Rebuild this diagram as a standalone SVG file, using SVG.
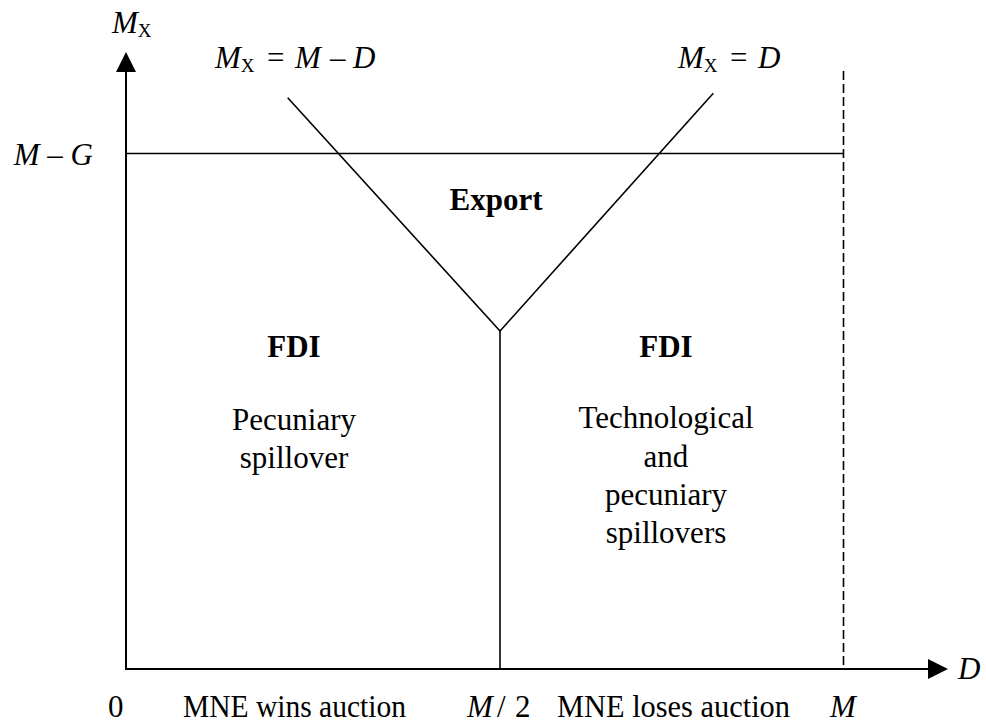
<svg xmlns="http://www.w3.org/2000/svg" width="986" height="725" viewBox="0 0 986 725">
  <style>
    text { font-family: "Liberation Serif", "Times New Roman", serif; font-size: 31px; fill: #000; }
    .it { font-style: italic; }
    .sub { font-size: 19px; font-style: normal; }
    .b { font-weight: bold; }
    .mid { text-anchor: middle; }
    .axis { stroke: #000; stroke-width: 2; fill: none; }
    .ln { stroke: #000; stroke-width: 1.6; fill: none; }
    .dash { stroke: #000; stroke-width: 1.6; fill: none; stroke-dasharray: 9 4; }
  </style>
  <defs>
    <marker id="arrow" markerUnits="userSpaceOnUse" markerWidth="20" markerHeight="20" refX="0" refY="10" orient="auto">
      <path d="M0,0 L20,10 L0,20 z" fill="#000"/>
    </marker>
  </defs>
  <rect width="986" height="725" fill="#fff"/>

  <g id="axes">
    <line class="axis" x1="126" y1="670" x2="126" y2="72" marker-end="url(#arrow)"/>
    <line class="axis" x1="125" y1="669" x2="928" y2="669" marker-end="url(#arrow)"/>
  </g>

  <g id="connectors">
    <line id="mg-line" class="ln" x1="126" y1="153.5" x2="843.5" y2="153.5"/>
    <line id="m-dashed" class="dash" x1="843.5" y1="71" x2="843.5" y2="668"/>
    <line id="mx-m-d" class="ln" x1="287.7" y1="97.7" x2="500" y2="331"/>
    <line id="mx-d" class="ln" x1="713.3" y1="93.3" x2="500" y2="331"/>
    <line id="half-m" class="ln" x1="500" y1="331" x2="500" y2="668"/>
  </g>

  <g id="axis-labels">
    <text x="112" y="33"><tspan class="it">M</tspan><tspan class="sub" dy="4">X</tspan></text>
    <text x="93" y="165" text-anchor="end"><tspan class="it">M</tspan> – <tspan class="it">G</tspan></text>
    <text x="958" y="679" class="it">D</text>
  </g>

  <g id="curve-labels">
    <text y="68"><tspan x="215" class="it">M</tspan><tspan class="sub" dy="4">X</tspan><tspan x="267" dy="-4">=</tspan><tspan x="295" class="it">M</tspan><tspan x="330">–</tspan><tspan x="353" class="it">D</tspan></text>
    <text y="68"><tspan x="678" class="it">M</tspan><tspan class="sub" dy="4">X</tspan><tspan x="730" dy="-4">=</tspan><tspan x="758" class="it">D</tspan></text>
  </g>

  <g id="region-export">
    <text x="496" y="210" class="b mid">Export</text>
  </g>

  <g id="region-fdi-left">
    <text x="294" y="357" class="b mid">FDI</text>
    <text x="294" y="430" class="mid">Pecuniary</text>
    <text x="294" y="468" class="mid">spillover</text>
  </g>

  <g id="region-fdi-right">
    <text x="666" y="357" class="b mid">FDI</text>
    <text x="666" y="428" class="mid">Technological</text>
    <text x="666" y="467" class="mid">and</text>
    <text x="666" y="505" class="mid">pecuniary</text>
    <text x="666" y="543" class="mid">spillovers</text>
  </g>

  <g id="x-labels">
    <text x="108" y="717">0</text>
    <text x="183" y="717" textLength="223" lengthAdjust="spacingAndGlyphs">MNE wins auction</text>
    <text y="717"><tspan x="467" class="it">M</tspan><tspan x="497">/</tspan><tspan x="515">2</tspan></text>
    <text x="557" y="717" textLength="233" lengthAdjust="spacingAndGlyphs">MNE loses auction</text>
    <text x="830" y="717" class="it">M</text>
  </g>
</svg>
